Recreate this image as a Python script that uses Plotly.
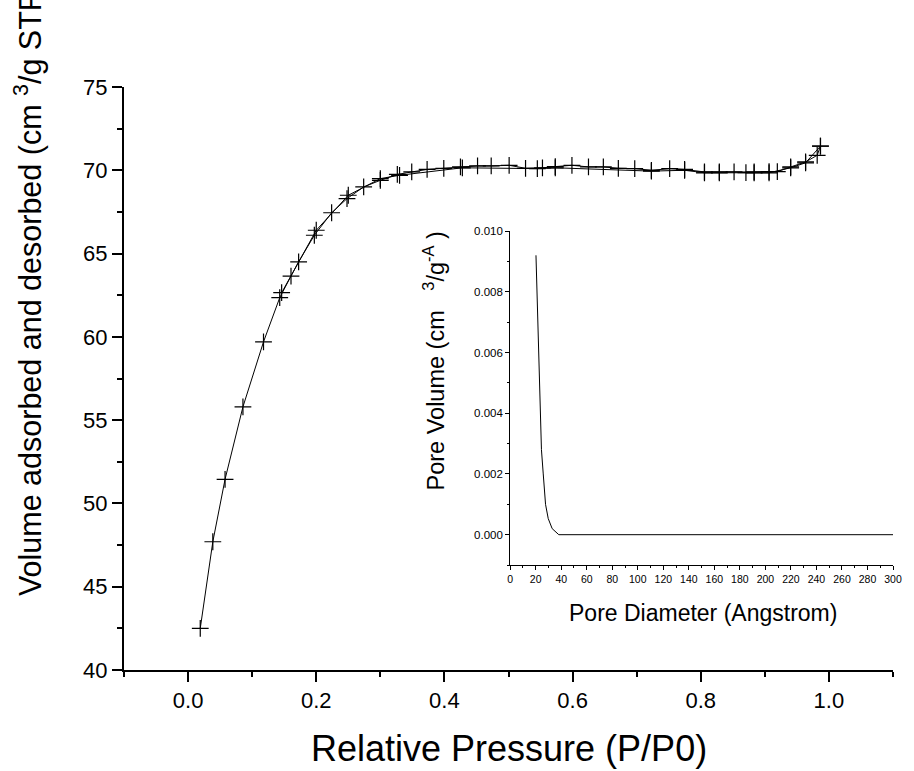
import plotly.graph_objects as go

# Main isotherm data (relative pressure P/P0, volume cm3/g STP)
ads_p = [0.019, 0.0386, 0.0577, 0.0856, 0.1177, 0.143, 0.1606, 0.1725, 0.197, 0.224,
         0.248, 0.274, 0.300, 0.3265, 0.349, 0.373, 0.399, 0.425, 0.4517, 0.473,
         0.501, 0.5266, 0.553, 0.573, 0.599, 0.6248, 0.648, 0.6714, 0.697, 0.723,
         0.7515, 0.7748, 0.8058, 0.829, 0.852, 0.8705, 0.8833, 0.9066, 0.9195, 0.9403,
         0.9636, 0.9817, 0.9868]
ads_v = [42.5, 47.7, 51.45, 55.8, 59.7, 62.35, 63.65, 64.5, 66.1, 67.45,
         68.3, 69.0, 69.4, 69.75, 69.9, 70.05, 70.12, 70.2, 70.26, 70.26,
         70.3, 70.12, 70.15, 70.22, 70.3, 70.2, 70.2, 70.12, 70.1, 70.0,
         70.1, 70.05, 69.9, 69.9, 69.9, 69.86, 69.9, 69.92, 69.92, 70.2,
         70.5, 70.9, 71.45]

des_p = [0.9868, 0.9636, 0.9403, 0.9066, 0.8833, 0.829, 0.8058, 0.7748, 0.723, 0.573,
         0.545, 0.428, 0.330, 0.300, 0.250, 0.200, 0.146]
des_v = [71.45, 70.45, 70.15, 69.85, 69.85, 69.85, 69.85, 70.0, 69.95, 70.15,
         70.1, 70.15, 69.7, 69.5, 68.5, 66.4, 62.65]

# Inset: pore size distribution
pore_d = [20.2, 23.3, 24.5, 25.9, 27.7, 29.8, 32.9, 38.1, 50, 100, 150, 200, 250, 300]
pore_v = [0.0092, 0.0040, 0.0028, 0.0020, 0.0010, 0.00053, 0.0002, 0.0, 0.0, 0.0, 0.0, 0.0, 0.0, 0.0]

FONT = "Liberation Sans, Arial, sans-serif"

fig = go.Figure()
marker = dict(symbol="cross-thin", size=12, color="black", line=dict(width=1.2, color="black"))
fig.add_trace(go.Scatter(x=ads_p, y=ads_v, mode="lines+markers",
                         line=dict(color="black", width=1), marker=marker,
                         xaxis="x", yaxis="y", showlegend=False))
fig.add_trace(go.Scatter(x=des_p, y=des_v, mode="lines+markers",
                         line=dict(color="black", width=1), marker=marker,
                         xaxis="x", yaxis="y", showlegend=False))
fig.add_trace(go.Scatter(x=pore_d, y=pore_v, mode="lines",
                         line=dict(color="black", width=1),
                         xaxis="x2", yaxis="y2", showlegend=False))

fig.update_layout(
    width=914, height=771,
    margin=dict(l=124, r=16, t=87, b=101),
    paper_bgcolor="white", plot_bgcolor="white",
    font=dict(family=FONT, color="black"),
    xaxis=dict(range=[-0.1, 1.1], tick0=0, dtick=0.2, tickformat=".1f",
               showline=True, linecolor="black", linewidth=2, mirror=False,
               ticks="outside", ticklen=10, tickwidth=2, tickcolor="black",
               tickfont=dict(size=22, family=FONT), showgrid=False, zeroline=False,
               minor=dict(dtick=0.1, ticks="outside", ticklen=5, tickwidth=2,
                          tickcolor="black", showgrid=False)),
    yaxis=dict(range=[40, 75], tick0=40, dtick=5,
               showline=True, linecolor="black", linewidth=2, mirror=False,
               ticks="outside", ticklen=10, tickwidth=2, tickcolor="black",
               tickfont=dict(size=22, family=FONT), showgrid=False, zeroline=False,
               minor=dict(dtick=2.5, ticks="outside", ticklen=5, tickwidth=2,
                          tickcolor="black", showgrid=False)),
    xaxis2=dict(domain=[0.5022, 1.0], anchor="y2", range=[0, 300], tick0=0, dtick=20,
                showline=True, linecolor="black", linewidth=1,
                ticks="outside", ticklen=4, tickwidth=1, tickcolor="black",
                tickfont=dict(size=10.5, family=FONT), showgrid=False, zeroline=False,
                minor=dict(dtick=10, ticks="outside", ticklen=2, tickwidth=1,
                           tickcolor="black", showgrid=False)),
    yaxis2=dict(domain=[0.18, 0.753], anchor="x2", range=[-0.001, 0.010], tick0=0,
                dtick=0.002, tickformat=".3f",
                showline=True, linecolor="black", linewidth=1,
                ticks="outside", ticklen=4, tickwidth=1, tickcolor="black",
                tickfont=dict(size=11.5, family=FONT), showgrid=False, zeroline=False,
                minor=dict(dtick=0.001, ticks="outside", ticklen=2, tickwidth=1,
                           tickcolor="black", showgrid=False)),
    annotations=[
        dict(text="Relative Pressure (P/P0)", xref="paper", yref="paper",
             x=0.5, y=-0.1338, xanchor="center", yanchor="middle", showarrow=False,
             font=dict(size=36, family=FONT)),
        dict(text="Volume adsorbed and desorbed (cm <sup>3</sup>/g STP)",
             xref="paper", yref="paper", x=(28 - 124) / 774, y=(670 - 598) / 583,
             xanchor="center", yanchor="bottom", textangle=-90, showarrow=False,
             font=dict(size=30.5, family=FONT)),
        dict(text="Pore Volume (cm   <sup>3</sup>/g<sup>-A</sup> )",
             xref="paper", yref="paper", x=(436 - 124) / 774, y=(670 - 229) / 583,
             xanchor="center", yanchor="top", textangle=-90, showarrow=False,
             font=dict(size=23.5, family=FONT)),
        dict(text="Pore Diameter (Angstrom)", xref="paper", yref="paper",
             x=(707 - 124) / 774, y=(670 - 613) / 583, xanchor="center", yanchor="middle",
             showarrow=False, font=dict(size=23, family=FONT)),
    ],
)

fig.write_html("out.html")
